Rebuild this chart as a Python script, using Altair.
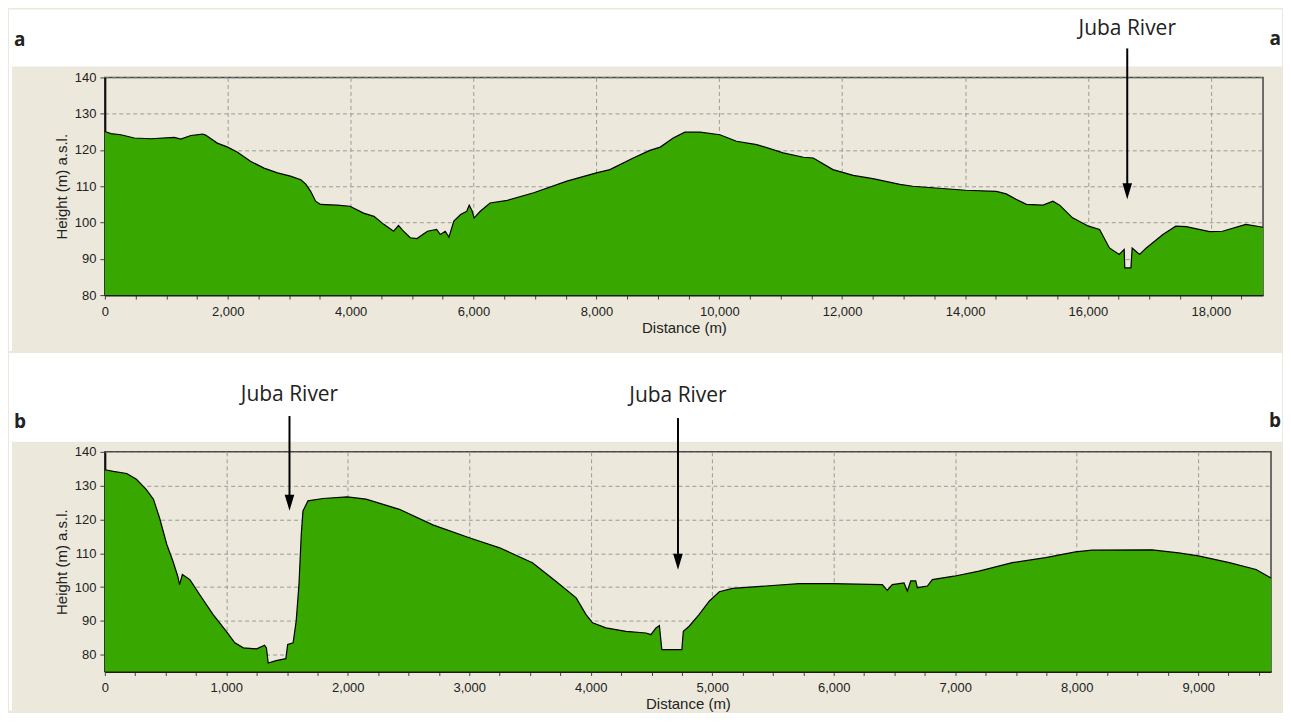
import altair as alt
import pandas as pd

# ---------------- data ----------------
A_DIST = [0, 100, 260, 480, 750, 1130, 1235, 1400, 1590, 1640, 1830, 2000, 2160, 2370, 2590,
          2810, 3020, 3190, 3270, 3350, 3430, 3510, 3780, 3990, 4210, 4380, 4540, 4700, 4780,
          4840, 4970, 5080, 5250, 5400, 5460, 5540, 5600, 5680, 5790, 5890, 5930, 5975, 6010,
          6110, 6270, 6550, 6980, 7520, 8000, 8220, 8600, 8870, 9040, 9250, 9440, 9690, 10010,
          10280, 10610, 11040, 11370, 11530, 11850, 12180, 12500, 12940, 13150, 14010, 14510,
          14670, 14830, 15000, 15270, 15430, 15540, 15750, 16010, 16190, 16350, 16510, 16590,
          16600, 16700, 16720, 16840, 16950, 17220, 17430, 17600, 17980, 18190, 18570, 18850]
A_HEIGHT = [125.1, 124.5, 124.2, 123.3, 123.1, 123.5, 123.0, 124.0, 124.4, 124.1, 121.9, 120.8,
            119.4, 116.9, 115.0, 113.7, 112.8, 111.8, 110.6, 108.6, 105.9, 105.0, 104.8, 104.5,
            102.6, 101.7, 99.5, 97.6, 99.2, 98.0, 95.8, 95.6, 97.6, 98.1, 96.7, 97.6, 96.0, 100.4,
            102.2, 103.1, 104.8, 103.3, 101.3, 103.1, 105.4, 106.1, 108.2, 111.4, 113.7, 114.6,
            117.8, 119.9, 120.8, 123.3, 124.9, 124.9, 124.2, 122.4, 121.5, 119.2, 118.0, 117.8,
            114.6, 113.0, 112.1, 110.5, 110.0, 108.9, 108.6, 107.9, 106.4, 105.0, 104.8, 105.9,
            104.8, 101.3, 99.0, 98.1, 93.0, 91.2, 92.6, 87.5, 87.5, 93.0, 91.2, 93.0, 96.7, 99.0,
            98.9, 97.5, 97.6, 99.5, 98.7]

B_DIST = [0, 70, 180, 260, 340, 400, 450, 510, 560, 600, 615, 638, 700, 780, 890, 1000, 1070,
          1140, 1250, 1315, 1330, 1345, 1410, 1490, 1505, 1550, 1575, 1598, 1617, 1631, 1672,
          1795, 1995, 2150, 2425, 2700, 3000, 3250, 3520, 3710, 3880, 3960, 4015, 4125, 4290,
          4455, 4495, 4537, 4565, 4585, 4750, 4762, 4810, 4893, 4975, 5058, 5167, 5440, 5715,
          5990, 6400, 6441, 6482, 6579, 6606, 6634, 6675, 6689, 6771, 6812, 6990, 7196, 7470,
          7744, 7990, 8127, 8621, 8840, 9002, 9257, 9477, 9600]
B_HEIGHT = [134.7, 134.2, 133.6, 131.9, 128.9, 126.0, 120.5, 112.6, 107.7, 103.2, 100.7, 103.7,
            102.2, 97.8, 91.9, 86.9, 83.5, 82.0, 81.7, 82.8, 82.0, 77.5, 78.2, 78.8, 83.0, 83.5,
            89.9, 100.7, 115.6, 122.5, 125.5, 126.2, 126.7, 126.0, 123.0, 118.4, 114.6, 111.6,
            107.2, 101.8, 96.8, 91.9, 89.4, 87.9, 86.9, 86.4, 85.9, 87.9, 88.6, 81.5, 81.5, 86.9,
            88.4, 91.9, 95.8, 98.6, 99.6, 100.3, 101.0, 101.0, 100.7, 99.0, 100.7, 101.2, 98.8,
            101.8, 101.8, 99.8, 100.3, 102.2, 103.2, 104.7, 107.2, 108.7, 110.4, 110.9, 111.0,
            110.1, 109.2, 107.2, 105.2, 102.7]

A_X_DOMAIN = [0, 18850]
A_Y_DOMAIN = [80, 140]
B_X_DOMAIN = [0, 9600]
B_Y_DOMAIN = [75, 140]

A_X_TICKS = list(range(0, 18851, 500))
B_X_TICKS = list(range(0, 9601, 250))
A_X_MAJOR = 2000
B_X_MAJOR = 1000
Y_TICKS = [80, 90, 100, 110, 120, 130, 140]

RIVER_LABEL = "Juba River"
A_RIVER_D = [16640]
A_RIVER_TIP = [106.4]
A_RIVER_START = [148.0]
A_RIVER_TEXT_Y = [151.8]
B_RIVER_D = [1520, 4718]
B_RIVER_TIP = [122.6, 105.1]
B_RIVER_START = [150.6, 150.0]
B_RIVER_TEXT_Y = [155.1, 154.8]

GREEN = "#38A700"
BEIGE = "#ECE9DC"
TXT = "#222222"
FONT = "Liberation Sans"
ZERO_PAD = {"left": 0, "top": 0, "right": 0, "bottom": 0}
RIGHT_EDGE = 1179


def const_df():
    return pd.DataFrame({"k": [0]})


def panel(dist, height, xdom, ydom, xticks, xmajor, rdist, rtip, rstart, rtext,
          w, h, letter, letter_y, top_white, bottom_y):
    prof = pd.DataFrame({"d": dist, "h": height})
    rivers = pd.DataFrame({"d": rdist, "tip": rtip, "start": rstart, "ty": rtext,
                           "label": [RIVER_LABEL] * len(rdist)})

    xscale = alt.Scale(domain=xdom, nice=False, zero=False)
    yscale = alt.Scale(domain=ydom, nice=False, zero=False)

    xaxis = alt.Axis(
        values=xticks,
        title="Distance (m)",
        labelExpr=f"datum.value % {xmajor} === 0 ? format(datum.value, ',') : ''",
        gridOpacity={"condition": {"test": f"datum.value % {xmajor} === 0", "value": 1}, "value": 0},
        labelOverlap=False, labelFlush=False, labelBound=False,
        grid=True, gridDash=[4, 3], gridColor="#9a9a9a", gridWidth=1,
        tickSize=4, tickColor="#444444", tickWidth=1,
        domainColor="#1b1b1b", domainWidth=2,
        labelFont=FONT, labelFontSize=13, labelColor=TXT, labelPadding=6,
        titleFont=FONT, titleFontSize=15, titleFontWeight="normal", titleColor=TXT,
        titlePadding=2,
    )
    yaxis = alt.Axis(
        values=Y_TICKS,
        title="Height (m) a.s.l.",
        grid=True, gridDash=[4, 3], gridColor="#9a9a9a", gridWidth=1,
        tickSize=5, tickColor="#444444", tickWidth=1,
        domainColor="#111111", domainWidth=2,
        labelFont=FONT, labelFontSize=13, labelColor=TXT, labelPadding=4,
        labelFlush=False, labelBound=False, labelOverlap=False,
        titleFont=FONT, titleFontSize=15, titleFontWeight="normal", titleColor=TXT,
        titlePadding=5,
    )

    def X(field):
        return alt.X(field, scale=xscale, axis=xaxis)

    def Y(field):
        return alt.Y(field, scale=yscale, axis=yaxis)

    # white page areas around the beige panel (decoration)
    white_top = alt.Chart(const_df()).mark_rect(color="white").encode(
        x=alt.value(-96), x2=alt.value(RIGHT_EDGE), y=alt.value(top_white[0]), y2=alt.value(top_white[1]))
    white_left = alt.Chart(const_df()).mark_rect(color="white").encode(
        x=alt.value(-96), x2=alt.value(-93), y=alt.value(top_white[1]), y2=alt.value(bottom_y))

    area = alt.Chart(prof).mark_area(
        color=GREEN, opacity=1, interpolate="linear",
        line={"color": "#000000", "strokeWidth": 1.2},
    ).encode(
        x=X("d:Q"),
        y=Y("h:Q"),
        y2=alt.datum(ydom[0]),
    )

    shaft = alt.Chart(rivers).transform_calculate(
        shaft_end="datum.tip + 2"
    ).mark_rule(color="black", strokeWidth=2).encode(
        x=X("d:Q"), y=Y("start:Q"), y2="shaft_end:Q")
    head = alt.Chart(rivers).mark_point(
        shape="M-0.6,-2L0.6,-2L0,0Z", filled=True, color="black", opacity=1, size=256,
        strokeWidth=0,
    ).encode(x=X("d:Q"), y=Y("tip:Q"))
    label = alt.Chart(rivers).mark_text(
        font="Open Sans", fontSize=21, color=TXT, align="center", baseline="alphabetic",
    ).encode(x=X("d:Q"), y=Y("ty:Q"), text="label:N")

    letter_l = alt.Chart(const_df()).mark_text(
        font="Open Sans", fontSize=19, fontWeight="bold", color=TXT,
        align="left", baseline="alphabetic", text=letter,
    ).encode(x=alt.value(-91), y=alt.value(letter_y))
    letter_r = alt.Chart(const_df()).mark_text(
        font="Open Sans", fontSize=19, fontWeight="bold", color=TXT,
        align="right", baseline="alphabetic", text=letter,
    ).encode(x=alt.value(RIGHT_EDGE - 1), y=alt.value(letter_y - 1))

    return alt.layer(white_top, white_left, area, shaft, head, label, letter_l, letter_r).properties(
        width=w, height=h)


top = panel(A_DIST, A_HEIGHT, A_X_DOMAIN, A_Y_DOMAIN, A_X_TICKS, A_X_MAJOR,
            A_RIVER_D, A_RIVER_TIP, A_RIVER_START, A_RIVER_TEXT_Y,
            1160, 218, "a", -31, (-68, -11), 274)
bottom = panel(B_DIST, B_HEIGHT, B_X_DOMAIN, B_Y_DOMAIN, B_X_TICKS, B_X_MAJOR,
               B_RIVER_D, B_RIVER_TIP, B_RIVER_START, B_RIVER_TEXT_Y,
               1168, 220, "b", -24, (-99, -10), 259)

chart = alt.vconcat(top, bottom, spacing=0).properties(
    padding=ZERO_PAD, background=BEIGE
).configure(
    padding=ZERO_PAD
).configure_view(
    stroke="#444444", strokeWidth=1.5
)

chart.save("out.html", embed_options={"renderer": "svg", "actions": False})
